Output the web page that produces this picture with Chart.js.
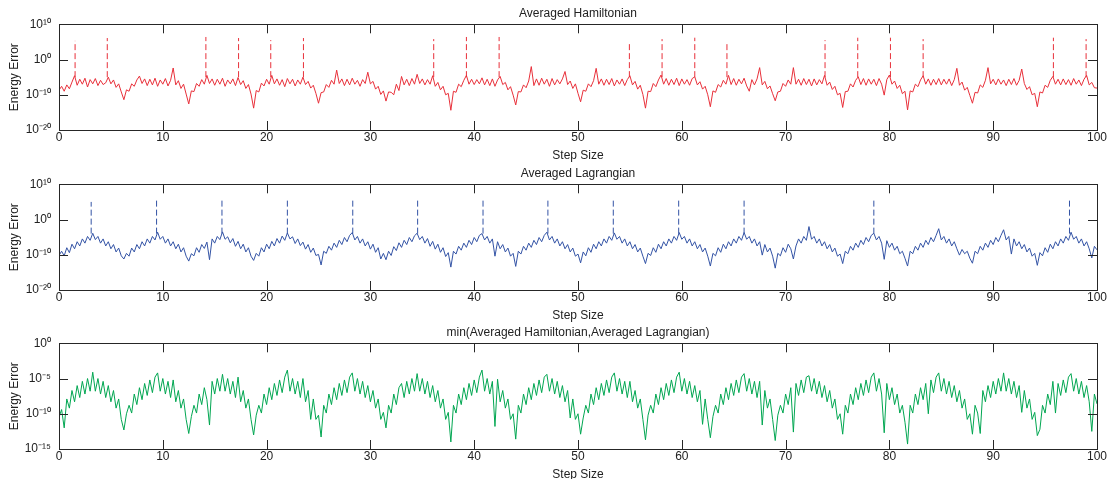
<!DOCTYPE html>
<html>
<head>
<meta charset="utf-8">
<script src="https://cdn.jsdelivr.net/npm/chart.js@4.4.1/dist/chart.umd.min.js"></script>
<style>
  html, body { margin: 0; padding: 0; background: #fff; }
  body { width: 1108px; height: 479px; position: relative; overflow: hidden; }
  .panel { position: absolute; left: 0; width: 1108px; height: 165px; }
</style>
</head>
<body>
<div class="panel" style="top:0px"><canvas id="hamChart"></canvas></div>
<div class="panel" style="top:160px"><canvas id="lagChart"></canvas></div>
<div class="panel" style="top:319px"><canvas id="minChart"></canvas></div>
<script>
// step size is sampled every 0.25 from 0 to 100; values are log10 of the energy error
const STEP = 0.25;

const hamiltonianExp = [
  -8.7, -7.6, -9.0, -7.2, -8.3, -6.4, -4.6, -7.3, -5.6, -7.0, -5.3, -7.8, -5.7, -6.9, -5.4, -7.4, -5.9, -7.1, -6.6, -5.0,
  -6.9, -5.8, -7.9, -6.9, -9.2, -11.4, -8.6, -9.0, -6.9, -7.6, -5.8, -4.7, -6.8, -5.5, -7.4, -5.6, -7.2, -5.3, -7.6, -5.8,
  -7.0, -5.4, -7.5, -5.9, -2.4, -7.2, -6.0, -8.2, -7.0, -9.8, -12.6, -8.9, -9.1, -6.8, -7.6, -5.7, -7.0, -4.5, -6.8, -5.5,
  -7.3, -5.6, -7.0, -5.3, -7.6, -5.8, -6.9, -5.5, -7.4, -5.1, -7.1, -6.0, -8.2, -7.1, -9.8, -13.8, -8.8, -9.2, -6.7, -7.5,
  -5.6, -7.0, -4.5, -6.9, -5.5, -7.3, -5.7, -7.7, -5.4, -6.9, -5.6, -7.5, -5.8, -7.0, -5.0, -7.1, -6.2, -8.1, -7.3, -9.6,
  -12.4, -9.4, -9.2, -7.1, -7.9, -5.9, -7.0, -3.0, -6.8, -5.5, -7.4, -5.6, -7.2, -5.3, -7.0, -5.9, -7.6, -5.7, -6.8, -3.6,
  -6.9, -6.2, -8.4, -7.6, -9.9, -8.9, -11.8, -9.2, -9.3, -10.0, -7.0, -8.8, -4.8, -7.2, -5.6, -7.4, -5.4, -7.0, -4.2, -6.8,
  -5.5, -7.2, -5.7, -7.0, -4.6, -7.6, -6.5, -8.6, -7.6, -10.0, -9.6, -14.4, -9.0, -9.3, -7.0, -7.7, -5.9, -4.5, -7.0, -5.6,
  -7.1, -5.7, -6.9, -5.2, -7.2, -5.6, -7.4, -5.5, -7.6, -5.8, -4.8, -7.1, -6.5, -8.6, -7.7, -10.1, -12.9, -9.1, -9.2, -7.2,
  -8.0, -6.1, -2.0, -7.4, -5.5, -7.3, -5.3, -7.0, -5.6, -7.6, -5.4, -7.2, -5.7, -6.9, -5.5, -3.4, -7.1, -6.1, -8.2, -6.9,
  -9.6, -12.0, -8.7, -9.0, -6.9, -7.7, -6.0, -2.5, -7.0, -5.5, -7.3, -5.6, -7.1, -5.4, -7.5, -5.8, -7.0, -5.5, -7.4, -5.7,
  -4.6, -7.2, -6.2, -8.4, -7.3, -9.9, -13.8, -9.0, -9.1, -6.8, -7.7, -5.8, -4.4, -7.0, -5.4, -7.3, -5.6, -7.1, -5.3, -7.4,
  -5.5, -7.0, -5.7, -7.3, -5.4, -4.9, -7.2, -6.3, -8.4, -7.6, -10.0, -13.4, -8.9, -9.3, -7.1, -7.8, -5.9, -7.0, -4.5, -7.1,
  -5.4, -7.3, -5.6, -6.9, -5.3, -7.5, -9.0, -5.7, -7.2, -5.5, -2.3, -7.2, -6.2, -8.3, -7.5, -9.7, -11.7, -9.2, -9.0, -6.8,
  -7.6, -5.8, -7.0, -2.3, -7.0, -5.6, -7.3, -5.4, -7.1, -5.6, -7.5, -5.5, -7.2, -5.7, -6.9, -4.5, -7.3, -6.4, -8.5, -7.6,
  -10.0, -9.6, -13.6, -9.1, -9.0, -6.9, -7.8, -5.9, -4.9, -7.1, -5.4, -7.3, -5.5, -7.0, -5.6, -7.4, -5.4, -7.0, -10.1, -5.7,
  -4.4, -7.0, -6.1, -8.2, -7.3, -9.7, -9.0, -14.3, -8.9, -9.2, -7.0, -7.7, -5.8, -4.6, -7.0, -5.5, -7.3, -5.6, -7.1, -5.4,
  -7.2, -5.6, -7.0, -5.5, -7.4, -5.7, -2.5, -7.3, -6.4, -8.7, -7.9, -10.2, -12.4, -9.3, -9.5, -7.2, -7.9, -5.9, -2.3, -6.9,
  -5.6, -7.2, -5.5, -7.0, -5.8, -7.4, -5.6, -7.1, -5.4, -7.3, -5.9, -2.7, -6.8, -8.5, -7.7, -10.0, -9.6, -13.4, -9.2, -9.5,
  -7.3, -7.9, -5.9, -4.8, -7.0, -5.6, -7.2, -5.5, -7.1, -5.7, -7.3, -5.4, -7.0, -5.8, -7.4, -5.6, -4.5, -7.2, -6.5, -8.0,
  -8.1
];

const lagrangianExp = [
  -10.2, -9.0, -10.3, -8.0, -9.4, -7.0, -8.3, -6.3, -7.5, -5.5, -6.7, -4.8, -5.9, -3.9, -5.7, -4.8, -6.7, -5.5, -7.5, -6.3,
  -8.3, -7.1, -9.2, -8.1, -10.3, -11.2, -9.6, -10.4, -8.1, -9.2, -7.1, -8.3, -6.3, -7.5, -5.5, -6.7, -4.8, -5.8, -3.6, -5.6,
  -4.8, -6.7, -5.5, -7.5, -6.3, -8.3, -7.0, -9.2, -8.0, -10.4, -11.8, -9.7, -10.3, -8.0, -9.3, -7.1, -8.2, -6.4, -11.4, -5.5,
  -6.7, -4.8, -5.7, -3.5, -5.6, -4.9, -6.6, -5.4, -7.6, -6.2, -8.3, -7.0, -9.2, -8.0, -10.4, -11.6, -9.6, -10.4, -8.0, -9.2,
  -7.0, -8.3, -6.2, -7.5, -5.4, -6.7, -4.7, -5.9, -3.8, -5.5, -4.9, -6.8, -5.5, -7.4, -6.4, -8.4, -7.1, -9.3, -8.1, -10.2,
  -9.9, -12.9, -9.0, -9.6, -7.6, -8.7, -6.7, -7.9, -5.9, -7.1, -5.1, -6.3, -4.5, -3.7, -5.8, -4.8, -6.7, -5.5, -7.5, -6.3,
  -8.4, -7.0, -9.3, -8.0, -11.2, -9.6, -11.4, -9.0, -10.2, -7.7, -8.8, -6.6, -7.9, -5.9, -7.1, -5.1, -6.3, -4.6, -3.9, -5.7,
  -4.8, -6.7, -5.4, -7.6, -6.2, -8.4, -7.0, -9.3, -8.0, -10.5, -9.4, -13.5, -9.0, -9.8, -7.6, -8.7, -6.7, -7.9, -5.9, -7.1,
  -5.1, -6.3, -4.5, -4.0, -5.8, -4.8, -6.7, -5.5, -10.4, -6.3, -8.3, -7.1, -9.2, -8.1, -10.4, -9.6, -13.3, -9.0, -9.8, -7.6,
  -8.7, -6.7, -7.9, -5.9, -7.1, -5.1, -6.3, -4.5, -3.6, -5.8, -4.8, -6.7, -5.5, -7.5, -6.3, -8.3, -7.1, -9.2, -8.1, -10.4,
  -9.8, -12.3, -9.2, -10.3, -8.0, -9.3, -7.0, -8.3, -6.3, -7.5, -5.5, -6.7, -4.8, -5.9, -3.8, -5.6, -4.8, -6.7, -5.5, -7.5,
  -6.3, -8.3, -7.1, -9.2, -8.1, -10.4, -12.5, -9.6, -10.2, -8.0, -9.3, -7.0, -8.3, -6.3, -7.5, -5.5, -6.7, -4.8, -5.9, -3.7,
  -5.6, -4.8, -6.7, -5.5, -7.5, -6.3, -8.3, -7.1, -9.2, -8.1, -10.4, -13.2, -9.6, -10.3, -8.0, -9.3, -7.0, -8.3, -6.3, -7.5,
  -5.5, -6.7, -4.8, -5.9, -3.7, -5.6, -4.8, -6.7, -5.5, -7.5, -6.3, -10.1, -7.1, -9.2, -8.1, -10.4, -13.8, -9.6, -10.3, -8.0,
  -9.3, -7.0, -8.3, -11.2, -7.5, -5.5, -6.7, -4.8, -5.9, -2.0, -5.6, -4.8, -6.7, -5.5, -7.5, -6.3, -8.3, -7.1, -9.2, -8.1,
  -10.4, -9.8, -12.5, -9.0, -9.7, -7.6, -8.7, -6.7, -7.9, -5.9, -7.1, -5.1, -6.3, -4.5, -3.9, -5.8, -4.8, -6.7, -11.3, -6.0,
  -7.9, -6.7, -8.7, -7.6, -9.7, -9.0, -11.0, -13.2, -9.0, -9.7, -7.6, -8.7, -6.7, -7.9, -5.9, -7.1, -5.1, -6.3, -4.5, -2.6,
  -5.8, -4.8, -6.7, -5.5, -7.5, -6.3, -8.3, -10.1, -8.5, -9.7, -9.0, -11.0, -12.4, -9.0, -9.7, -7.6, -8.7, -6.7, -7.9, -5.9,
  -7.1, -5.1, -6.3, -4.5, -2.9, -5.8, -4.8, -9.8, -5.5, -7.5, -6.3, -8.3, -7.1, -9.2, -8.1, -10.4, -9.6, -13.0, -9.4, -10.3,
  -8.0, -9.3, -7.0, -8.3, -6.3, -7.5, -5.5, -6.7, -4.8, -5.9, -3.6, -5.6, -4.8, -6.7, -5.5, -7.5, -6.3, -8.3, -10.9, -7.6,
  -8.6
];

const minErrorExp = [
  -10.5, -9.4, -12.0, -7.9, -9.2, -6.7, -8.3, -6.0, -7.7, -5.4, -7.2, -5.0, -6.8, -4.1, -6.8, -5.0, -7.2, -5.4, -7.7, -6.0,
  -8.3, -6.7, -9.2, -7.9, -10.8, -12.3, -10.0, -8.8, -9.9, -7.2, -8.7, -6.3, -8.0, -5.7, -7.4, -5.2, -7.0, -4.8, -4.2, -6.8,
  -5.0, -7.2, -5.4, -7.7, -5.2, -8.3, -6.7, -9.2, -7.9, -10.8, -12.8, -10.4, -8.8, -9.9, -7.2, -8.7, -6.3, -8.0, -11.6, -5.4,
  -7.2, -5.0, -6.8, -4.4, -6.8, -5.0, -7.2, -5.4, -7.7, -4.8, -8.3, -6.7, -9.2, -7.9, -10.8, -13.0, -10.2, -8.8, -9.9, -7.2,
  -8.7, -6.3, -8.0, -5.7, -7.4, -5.2, -7.0, -4.8, -3.8, -6.8, -5.0, -7.2, -5.4, -7.7, -5.0, -8.3, -6.7, -10.8, -7.9, -10.8,
  -10.2, -13.3, -8.8, -9.9, -7.2, -8.7, -6.3, -8.0, -5.7, -7.4, -5.2, -7.0, -4.8, -4.2, -6.8, -5.0, -7.2, -5.4, -7.7, -6.0,
  -8.3, -6.7, -9.2, -7.9, -10.8, -9.8, -12.0, -8.8, -9.9, -7.2, -8.7, -6.3, -5.7, -7.7, -5.4, -7.2, -5.0, -6.8, -4.3, -6.8,
  -5.0, -7.2, -5.4, -7.7, -6.0, -8.3, -6.7, -9.2, -7.9, -10.8, -9.8, -14.0, -8.8, -9.9, -7.2, -8.7, -6.3, -8.0, -5.7, -7.4,
  -5.2, -7.0, -4.8, -3.8, -6.8, -5.0, -7.2, -5.4, -11.8, -5.1, -8.3, -6.7, -9.2, -7.9, -10.8, -10.0, -13.6, -8.8, -9.9, -7.2,
  -8.7, -6.3, -8.0, -5.7, -7.4, -5.2, -7.0, -4.8, -4.4, -6.8, -5.0, -7.2, -5.4, -7.7, -6.0, -8.3, -6.7, -10.6, -7.9, -10.8,
  -10.0, -12.9, -10.6, -8.8, -9.9, -7.2, -8.7, -6.3, -8.0, -5.7, -7.4, -5.2, -7.0, -4.8, -4.2, -6.8, -5.0, -7.2, -5.4, -7.7,
  -5.4, -8.3, -6.7, -9.2, -7.9, -10.8, -13.7, -10.2, -8.8, -9.9, -7.2, -8.7, -6.3, -8.0, -5.7, -7.4, -5.2, -7.0, -4.8, -4.1,
  -6.8, -5.0, -7.2, -5.4, -7.7, -6.0, -8.3, -6.7, -11.5, -7.9, -10.8, -13.4, -10.4, -8.8, -9.9, -7.2, -8.7, -6.3, -8.0, -5.7,
  -7.4, -5.2, -7.0, -4.8, -4.3, -6.8, -5.0, -7.2, -5.4, -7.7, -5.4, -11.6, -6.7, -9.2, -7.9, -10.8, -13.8, -10.2, -8.8, -9.9,
  -7.2, -8.7, -6.3, -12.6, -5.7, -7.4, -5.2, -7.0, -4.8, -4.6, -6.8, -5.0, -7.2, -5.4, -7.7, -6.0, -8.3, -6.7, -9.2, -7.9,
  -10.8, -10.0, -12.9, -8.8, -9.9, -7.2, -8.7, -6.3, -8.0, -5.7, -7.4, -5.2, -7.0, -4.8, -4.2, -6.8, -5.0, -7.2, -12.7, -5.7,
  -8.0, -6.3, -8.7, -7.2, -9.9, -8.8, -11.2, -14.3, -8.8, -9.9, -7.2, -8.7, -6.3, -8.0, -5.7, -10.0, -5.2, -7.0, -4.8, -4.2,
  -6.8, -5.0, -7.2, -5.4, -7.7, -6.0, -8.3, -6.7, -9.2, -7.9, -10.8, -10.0, -12.9, -8.8, -9.9, -12.8, -6.7, -8.3, -6.0, -7.7,
  -5.4, -7.2, -5.0, -6.8, -4.2, -6.8, -5.0, -7.2, -5.4, -7.7, -6.0, -9.8, -6.7, -9.2, -7.9, -10.8, -9.8, -13.1, -12.2, -8.8,
  -9.9, -7.2, -8.7, -5.4, -9.9, -5.7, -7.4, -5.2, -7.0, -4.8, -4.3, -6.8, -5.0, -7.2, -5.4, -7.7, -6.0, -8.3, -12.5, -7.2,
  -8.6
];

// tall dashed spikes (step size, log10 of bottom and top)
const hamSpikeX = [1.55, 4.65, 14.15, 17.3, 20.4, 23.55, 36.1, 39.25, 42.4, 54.95, 58.1, 61.25, 64.35, 73.8, 76.95, 80.1, 83.25, 95.8, 98.95];
const hamSpikeTop = [5.3, 6.1, 6.4, 6.1, 5.5, 6.1, 5.8, 6.4, 6.4, 5.0, 5.8, 6.2, 5.0, 5.5, 6.2, 6.2, 5.8, 6.2, 5.8];
const hamSpikeBase = -5;
const lagSpikeX = [3.1, 9.4, 15.7, 22.0, 28.3, 34.55, 40.85, 47.1, 53.4, 59.7, 66.0, 78.5, 97.35];
const lagSpikeTop = [5.0, 6.0, 6.2, 6.2, 5.7, 6.0, 5.5, 6.2, 6.2, 6.0, 6.2, 5.9, 6.2];
const lagSpikeBase = -4;

const xTicks = [0, 10, 20, 30, 40, 50, 60, 70, 80, 90, 100];
const errTicks = [1e-20, 1e-10, 1, 1e10];
const errTickLabels = ['10\u207B\u00B2\u2070', '10\u207B\u00B9\u2070', '10\u2070', '10\u00B9\u2070'];
const minTicks = [1e-15, 1e-10, 1e-5, 1];
const minTickLabels = ['10\u207B\u00B9\u2075', '10\u207B\u00B9\u2070', '10\u207B\u2075', '10\u2070'];

const FONT = { family: '"Liberation Sans", Arial, Helvetica, sans-serif', size: 12, weight: 'normal' };
const TEXT = '#222';

// MATLAB style box with inward ticks on all four sides
const frame = {
  id: 'frame',
  afterDatasetsDraw(chart) {
    const { ctx, chartArea: a, scales: { x, y } } = chart;
    const len = 9;
    ctx.save();
    ctx.strokeStyle = '#262626';
    ctx.lineWidth = 1;
    ctx.beginPath();
    x.ticks.forEach(t => {
      const px = Math.round(x.getPixelForValue(t.value)) + 0.5;
      ctx.moveTo(px, a.top); ctx.lineTo(px, a.top + len);
      ctx.moveTo(px, a.bottom); ctx.lineTo(px, a.bottom - len);
    });
    y.ticks.forEach(t => {
      const py = Math.round(y.getPixelForValue(t.value)) + 0.5;
      ctx.moveTo(a.left, py); ctx.lineTo(a.left + len, py);
      ctx.moveTo(a.right, py); ctx.lineTo(a.right - len, py);
    });
    ctx.stroke();
    ctx.strokeRect(Math.round(a.left) + 0.5, Math.round(a.top) + 0.5, Math.round(a.width), Math.round(a.height));
    ctx.restore();
  }
};

function spikeData(xs, base, tops) {
  const pts = [];
  xs.forEach((sx, i) => {
    pts.push({ x: sx, y: Math.pow(10, base) }, { x: sx, y: Math.pow(10, tops[i]) }, { x: sx, y: null });
  });
  return pts;
}

function makePanel(id, title, color, exps, spikes, yMin, yMax, ticks, labels) {
  const datasets = [{
    data: exps.map((e, i) => ({ x: i * STEP, y: Math.pow(10, e) })),
    borderColor: color,
    borderWidth: 1,
    pointRadius: 0,
    tension: 0
  }];
  if (spikes) {
    datasets.push({
      data: spikes,
      borderColor: color,
      borderWidth: 1,
      borderDash: [6, 3],
      pointRadius: 0,
      spanGaps: false
    });
  }
  new Chart(document.getElementById(id), {
    type: 'line',
    data: { datasets },
    options: {
      animation: false,
      responsive: true,
      maintainAspectRatio: false,
      layout: { padding: { left: 0, right: 11, top: 0, bottom: 0 } },
      plugins: {
        legend: { display: false },
        tooltip: { enabled: false },
        title: {
          display: true, text: title, fullSize: false, color: TEXT, font: FONT,
          padding: { top: 6, bottom: 3.9 }
        }
      },
      scales: {
        x: {
          type: 'linear', min: 0, max: 100,
          afterBuildTicks: s => { s.ticks = xTicks.map(v => ({ value: v })); },
          afterFit: s => { s.height = 35; },
          grid: { display: false, drawTicks: false },
          border: { display: false },
          ticks: { padding: 0, color: TEXT, font: FONT, maxRotation: 0, autoSkip: false },
          title: { display: true, text: 'Step Size', color: TEXT, font: FONT, padding: { top: 0, bottom: 1.8 } }
        },
        y: {
          type: 'logarithmic', min: yMin, max: yMax,
          afterBuildTicks: s => { s.ticks = ticks.map(v => ({ value: v })); },
          afterFit: s => { s.width = 59; },
          grid: { display: false, drawTicks: false },
          border: { display: false },
          ticks: { padding: 8, color: TEXT, font: FONT, callback: (v, i) => labels[i] },
          title: { display: true, text: 'Energy Error', color: TEXT, font: FONT, padding: { top: 7, bottom: 0 } }
        }
      }
    },
    plugins: [frame]
  });
}

makePanel('hamChart', 'Averaged Hamiltonian', '#e8303a', hamiltonianExp,
  spikeData(hamSpikeX, hamSpikeBase, hamSpikeTop), 1e-20, 1e10, errTicks, errTickLabels);
makePanel('lagChart', 'Averaged Lagrangian', '#3353a5', lagrangianExp,
  spikeData(lagSpikeX, lagSpikeBase, lagSpikeTop), 1e-20, 1e10, errTicks, errTickLabels);
makePanel('minChart', 'min(Averaged Hamiltonian,Averaged Lagrangian)', '#00a651', minErrorExp,
  null, 1e-15, 1, minTicks, minTickLabels);
</script>
</body>
</html>
